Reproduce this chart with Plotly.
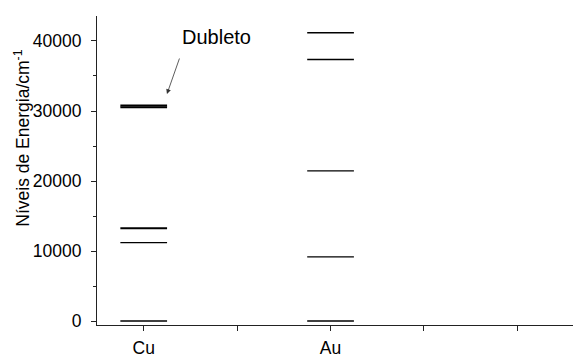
import plotly.graph_objects as go

# ---- data ----
elements = ["Cu", "Au"]
element_pos = [1, 3]
cu_levels = [0, 11202, 13245, 30535, 30784]
au_levels = [0, 9161, 21435, 37359, 41174]
tick_vals = [1, 2, 3, 4, 5]
tick_text = ["Cu", "", "Au", "", ""]
annotation_text = "Dubleto"

# ---- styles ----
cu_widths = [1.3, 1.3, 2.0, 2.2, 2.2]
au_widths = [1.3, 1.3, 1.3, 1.3, 1.3]
half = 0.25
FONT = "Liberation Sans, Arial, sans-serif"

fig = go.Figure()
for pos, levels, widths in [(element_pos[0], cu_levels, cu_widths),
                            (element_pos[1], au_levels, au_widths)]:
    for v, w in zip(levels, widths):
        fig.add_trace(go.Scatter(
            x=[pos - half, pos + half], y=[v, v], mode="lines",
            line=dict(color="black", width=w), showlegend=False,
            hoverinfo="skip"))

# page body has an 8px margin, so the figure is 8px smaller than the window
fig.update_layout(
    width=573, height=350,
    margin=dict(l=89, r=1, t=8, b=33),
    paper_bgcolor="white", plot_bgcolor="white",
    font=dict(family=FONT, size=17.5, color="black"),
    xaxis=dict(
        range=[0.5, 5.67], tickmode="array", tickvals=tick_vals,
        ticktext=tick_text, ticks="outside", ticklen=5, tickwidth=1,
        tickcolor="#222", showline=True, linecolor="#222", linewidth=1,
        showgrid=False, zeroline=False, ticklabelstandoff=2,
        tickfont=dict(size=17.5)),
    yaxis=dict(
        range=[-570, 43570], tickmode="linear", tick0=0, dtick=10000,
        tickformat="d",
        ticks="outside", ticklen=5, tickwidth=1, tickcolor="#222",
        showline=True, linecolor="#222", linewidth=1,
        showgrid=False, zeroline=False, ticklabelstandoff=6,
        tickfont=dict(size=17.5),
        minor=dict(dtick=5000, ticks="outside", ticklen=3,
                   tickcolor="#222", showgrid=False)),
)

# y-axis title as annotation (offset above centre like the reference)
fig.add_annotation(
    xref="paper", yref="paper", x=-0.156, y=0.605,
    text="Níveis de Energia/cm<sup>-1</sup>", textangle=-90,
    showarrow=False, font=dict(family=FONT, size=17.5, color="black"),
    xanchor="center", yanchor="middle")

# Dubleto label
fig.add_annotation(
    xref="x", yref="y", x=1.774, y=40570, text=annotation_text,
    showarrow=False, font=dict(family=FONT, size=20, color="black"),
    xanchor="center", yanchor="middle")

# arrow pointing to the doublet
fig.add_annotation(
    xref="x", yref="y", x=1.249, y=32430, ax=13, ay=-37, text="",
    showarrow=True, arrowhead=2, arrowsize=1.2, arrowwidth=0.8,
    arrowcolor="#333")

fig.write_html("out.html")
